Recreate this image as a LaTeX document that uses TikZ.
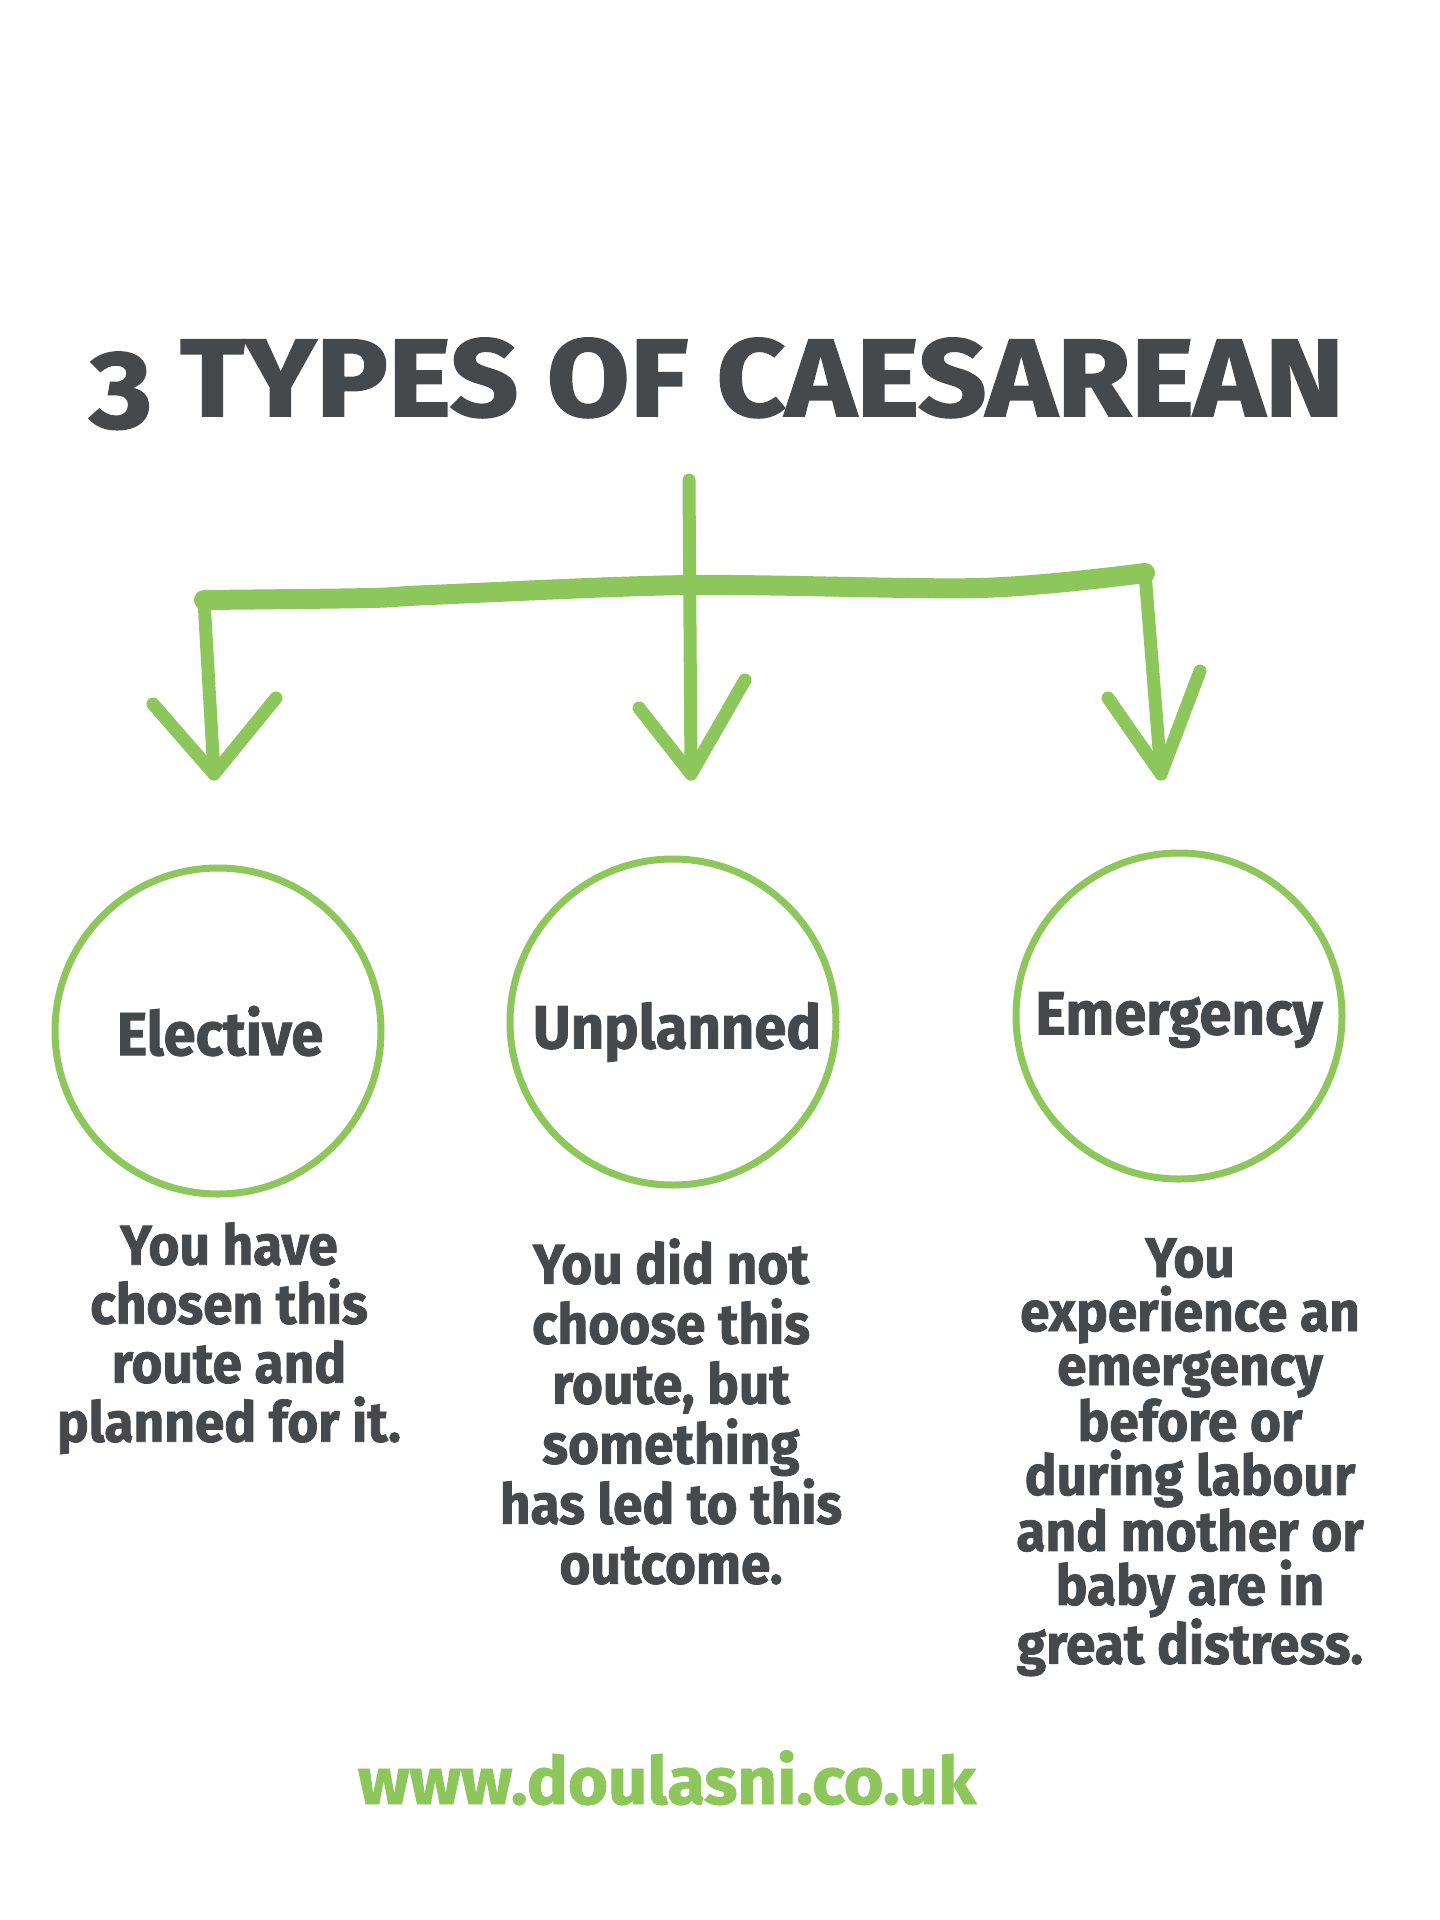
\documentclass[tikz,border=0pt]{standalone}
\usepackage{fontspec}
\setmainfont{Fira Sans}
\newfontfamily\titlefont{Fira Sans}[FakeStretch=1.09,FakeBold=1.6,Numbers=OldStyle]
\newfontfamily\bodyfont{Fira Sans}[FakeStretch=0.95,FakeBold=1.4]
\newfontfamily\sitefont{Fira Sans}[FakeStretch=1.04,FakeBold=1.4]
\definecolor{leafgreen}{HTML}{8DC65B}
\definecolor{slate}{HTML}{46494C}

\tikzset{
  branch/.style={draw=leafgreen, line width=13pt, line cap=round, line join=round},
  bubble/.style={circle, draw=leafgreen, line width=7pt, minimum size=326pt, inner sep=0pt},
  kind/.style={text=slate, inner sep=0pt, font=\bodyfont\bfseries\fontsize{61}{61}\selectfont},
  blurb/.style={text=slate, align=center, inner sep=0pt, anchor=north},
}

\begin{document}
\begin{tikzpicture}[x=1pt, y=-1pt]
    \useasboundingbox (0,0) rectangle (1440,1920);
    \fill[white] (0,0) rectangle (1440,1920);
    \node[anchor=base, text=slate, inner sep=0pt,
      font=\titlefont\bfseries\fontsize{110}{110}\selectfont] (title) at (717,416)
    {3 TYPES OF CAESAREAN};
    % hand drawn tree of arrows
    \coordinate (stem) at (689,480); \coordinate (hub) at (689,585);
    \coordinate (barL) at (204,600); \coordinate (barR) at (1145,573);
    \coordinate (tipL) at (214,774); \coordinate (tipM) at (691,774);
    \coordinate (tipR) at (1161,774);
    \draw[branch, line width=20pt] plot[smooth] coordinates
      {(barL) (370,598) (430,595) (hub) (980,588) (barR)};
    \draw[branch] (barL) -- (tipL); \draw[branch] (stem) -- (tipM);
    \draw[branch] (barR) -- (tipR);
    \draw[branch] (153,704) -- (tipL) -- (276,698);
    \draw[branch] (639,708) -- (tipM) -- (745,680);
    \draw[branch] (1108,698) -- (tipR) -- (1200,671);
    % the three kinds
    \node[bubble] (elective) at (218,1031) {};
    \node[bubble] (unplanned) at (673,1022) {};
    \node[bubble] (emergency) at (1179,1016) {};
    \node[kind] (electiveT) at (220,1031) {Elective};
    \node[kind] (unplannedT) at (677,1032) {Unplanned};
    \node[kind] (emergencyT) at (1179,1020) {Emergency};
    \node[blurb, font=\bodyfont\bfseries\fontsize{56}{59}\selectfont] (electiveB) at (229,1222)
    {You have\\chosen this\\route and\\planned for it.};
    \node[blurb, font=\bodyfont\bfseries\fontsize{56}{60}\selectfont] (unplannedB) at (671,1238)
    {You did not\\choose this\\route, but\\something\\has led to this\\outcome.};
    \node[blurb, font=\bodyfont\bfseries\fontsize{56}{54}\selectfont] (emergencyB) at (1190,1238)
    {You\\experience an\\emergency\\before or\\during labour\\and mother or\\baby are in\\great distress.};
    \node[anchor=base, text=leafgreen, inner sep=0pt,
      font=\sitefont\bfseries\fontsize{66}{66}\selectfont] (site) at (667,1804)
    {www.doulasni.co.uk};
  \end{tikzpicture}
\end{document}
